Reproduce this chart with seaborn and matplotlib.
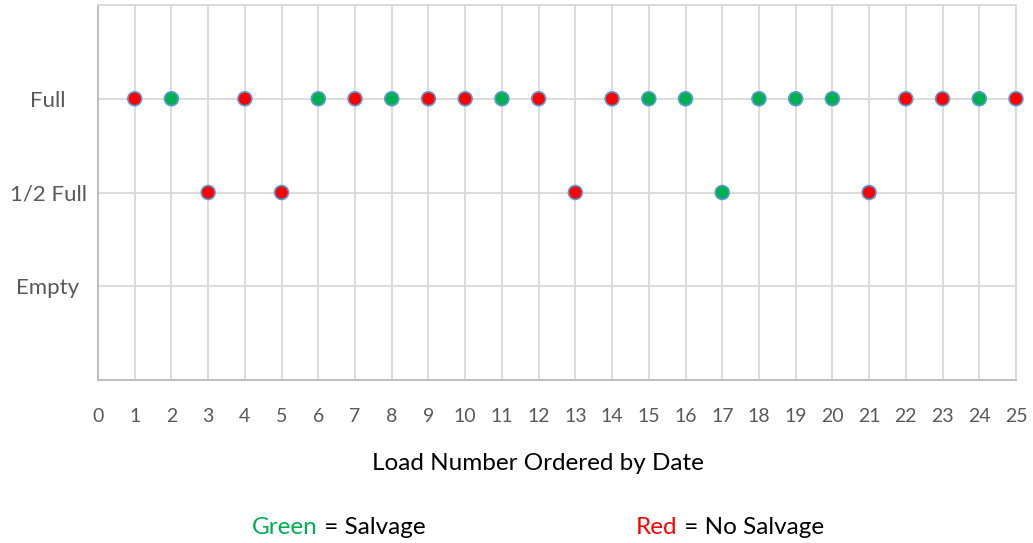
import matplotlib
matplotlib.use("Agg")
import matplotlib.pyplot as plt
import seaborn as sns
import pandas as pd

# load number, fill level, salvage status
loads = list(range(1, 26))
fill = ["Full", "Full", "1/2 Full", "Full", "1/2 Full", "Full", "Full", "Full", "Full", "Full",
        "Full", "Full", "1/2 Full", "Full", "Full", "Full", "1/2 Full", "Full", "Full", "Full",
        "1/2 Full", "Full", "Full", "Full", "Full"]
status = ["No Salvage", "Salvage", "No Salvage", "No Salvage", "No Salvage", "Salvage", "No Salvage",
          "Salvage", "No Salvage", "No Salvage", "Salvage", "No Salvage", "No Salvage", "No Salvage",
          "Salvage", "Salvage", "Salvage", "Salvage", "Salvage", "Salvage", "No Salvage",
          "No Salvage", "No Salvage", "Salvage", "No Salvage"]
levels = ["Empty", "1/2 Full", "Full"]
level_pos = [1, 2, 3]

df = pd.DataFrame({"load": loads, "fill": fill, "status": status})
df["level"] = df["fill"].map(dict(zip(levels, level_pos)))

sns.set_style("white")
plt.rcParams['font.family'] = ['Lato', 'DejaVu Sans']

fig = plt.figure(figsize=(10.33, 5.43), dpi=100)
ax = fig.add_axes([98 / 1033, 1 - 380 / 543, (1016 - 98) / 1033, 375 / 543])

sns.scatterplot(data=df, x="load", y="level", hue="status",
                palette={"Salvage": "#00b050", "No Salvage": "#ff0000"},
                s=100, edgecolor="#5b9bd5", linewidth=1.2, legend=False,
                zorder=3, clip_on=False, ax=ax)

ax.set_xlim(0, 25)
ax.set_ylim(0, 4)
ax.set_xticks(range(0, 26))
ax.set_yticks(level_pos)
ax.set_yticklabels(levels)
ax.grid(True, color="#d9d9d9", linewidth=1.3)
ax.set_axisbelow(True)
ax.set_yticks([4], minor=True)
ax.grid(True, which="minor", axis="y", color="#d9d9d9", linewidth=1.3)
for side in ["top", "right"]:
    ax.spines[side].set_color("#d9d9d9")
    ax.spines[side].set_linewidth(1.3)
for side in ["left", "bottom"]:
    ax.spines[side].set_color("#bfbfbf")
    ax.spines[side].set_linewidth(1.5)

ax.tick_params(axis="x", length=0, pad=20, labelsize=14, labelcolor="#595959")
ax.tick_params(axis="y", which="both", length=0, pad=36, labelsize=16, labelcolor="#595959")
for lab in ax.get_yticklabels():
    lab.set_horizontalalignment("center")

ax.set_xlabel("Load Number Ordered by Date", fontsize=17.5, color="black")
ax.xaxis.set_label_coords(0.479, -0.195)
ax.set_ylabel("")

# colour key under the chart
t1 = fig.text(252 / 1033, 1 - 527 / 543, "Green", color="#00b050", fontsize=17.5, va="center")
ax.annotate(" = Salvage", xy=(1, 0.5), xycoords=t1, va="center", fontsize=17.5, color="black")
t2 = fig.text(636 / 1033, 1 - 527 / 543, "Red", color="#ff0000", fontsize=17.5, va="center")
ax.annotate(" = No Salvage", xy=(1, 0.5), xycoords=t2, va="center", fontsize=17.5, color="black")

fig.savefig("out.png", dpi=100)
